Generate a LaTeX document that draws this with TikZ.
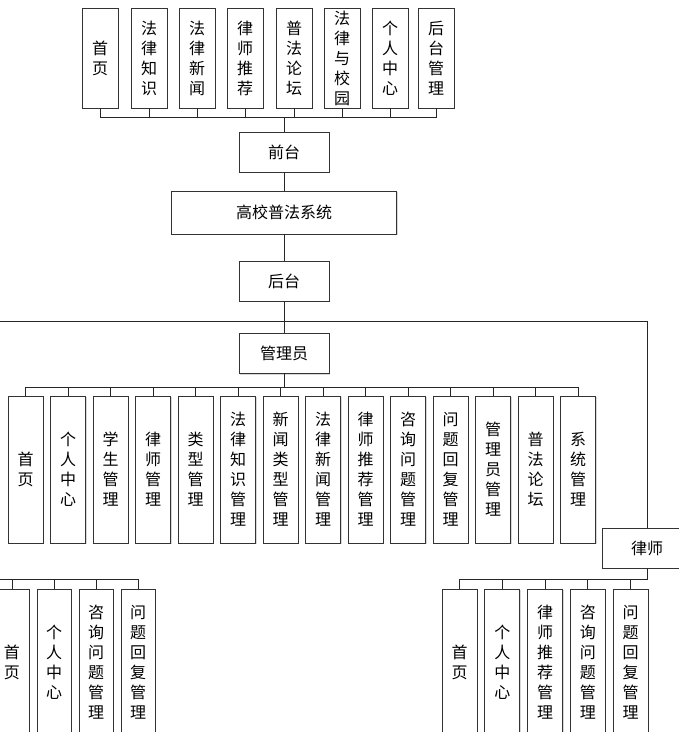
\documentclass[tikz,border=0pt]{standalone}
\usepackage{fontspec}
\newfontfamily\cjk{Noto Sans CJK SC}
\usetikzlibrary{shadows}

\tikzset{
  kuang/.style={draw=black!80, line width=0.8pt, fill=white, inner sep=0pt, align=center,
    font=\cjk\fontsize{16}{20}\selectfont,
    drop shadow={shadow xshift=1.2pt, shadow yshift=-1.2pt, fill=black!30}},
  heng/.style={kuang, minimum width=90pt, minimum height=40pt},
  shu/.style={kuang, minimum width=35pt, minimum height=147pt},
  lian/.style={draw=black!85, line width=0.8pt},
}

\begin{document}
\begin{tikzpicture}[x=1pt, y=-1pt]
\useasboundingbox (0,0) rectangle (679,732);
\clip (0,0) rectangle (679,732);

% 前台模块
\foreach \n/\x/\t in {q1/100/{首\\页}, q2/149/{法\\律\\知\\识}, q3/197/{法\\律\\新\\闻},
  q4/245/{律\\师\\推\\荐}, q5/294/{普\\法\\论\\坛}, q6/342/{法\\律\\与\\校\\园},
  q7/390/{个\\人\\中\\心}, q8/436/{后\\台\\管\\理}}
  \node[kuang, minimum width=36pt, minimum height=100pt] (\n) at (\x,58) {\t};

\node[heng] (qt) at (284,152) {前台};
\node[kuang, minimum width=225pt, minimum height=43pt] (xt) at (284,212.5) {高校普法系统};
\node[heng] (ht) at (284,281) {后台};
\node[heng] (gly) at (284,353.5) {管理员};
\node[heng] (ls) at (647,548) {律师};

% 管理员模块
\foreach \t [count=\i] in {{首\\页}, {个\\人\\中\\心}, {学\\生\\管\\理}, {律\\师\\管\\理},
  {类\\型\\管\\理}, {法\\律\\知\\识\\管\\理}, {新\\闻\\类\\型\\管\\理}, {法\\律\\新\\闻\\管\\理},
  {律\\师\\推\\荐\\管\\理}, {咨\\询\\问\\题\\管\\理}, {问\\题\\回\\复\\管\\理},
  {管\\理\\员\\管\\理}, {普\\法\\论\\坛}, {系\\统\\管\\理}}
  \node[shu] (m\i) at ({25.5+42.5*(\i-1)},469.5) {\t};

% 学生模块（父节点在图外）
\foreach \t [count=\i] in {{首\\页}, {个\\人\\中\\心}, {咨\\询\\问\\题\\管\\理}, {问\\题\\回\\复\\管\\理}}
  \node[shu, minimum width=34pt] (z\i) at ({12+42*(\i-1)},662.5) {\t};

% 律师模块
\foreach \t [count=\i] in {{首\\页}, {个\\人\\中\\心}, {律\\师\\推\\荐\\管\\理},
  {咨\\询\\问\\题\\管\\理}, {问\\题\\回\\复\\管\\理}}
  \node[shu] (l\i) at ({459.5+42.75*(\i-1)},662.5) {\t};

\coordinate (xs) at (-5,321);
\coordinate (xsb) at (-5,579);

% 连线
\foreach \i in {1,...,8}
  \draw[lian] (qt.north) -- ++(0,-14) -| (q\i.south);
\draw[lian] (qt.south) -- (xt.north);
\draw[lian] (xt.south) -- (ht.north);
\draw[lian] (ht.south) -- (gly.north);
\draw[lian] (xs) -| (ls.north);
\foreach \i in {1,...,14}
  \draw[lian] (gly.south) -- ++(0,13) -| (m\i.north);
\foreach \i in {1,...,4}
  \draw[lian] (xsb) -| (z\i.north);
\foreach \i in {1,...,5}
  \draw[lian] (ls.south) -- ++(0,11) -| (l\i.north);

\end{tikzpicture}
\end{document}
